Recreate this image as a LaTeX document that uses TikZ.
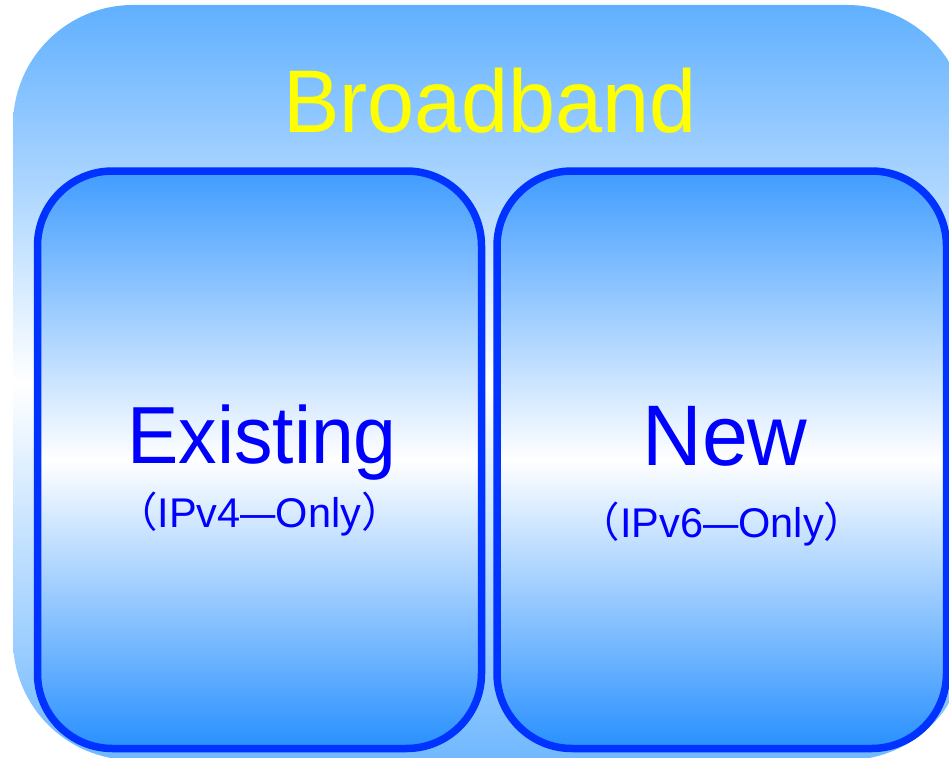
\documentclass[tikz,border=0pt]{standalone}
\usepackage{fontspec}
\setmainfont{Liberation Sans}
\newfontfamily\jpfont{Noto Sans CJK JP}
\definecolor{skytop}{HTML}{60B0FF}
\definecolor{skybot}{HTML}{70B8FF}
\definecolor{boxtop}{HTML}{409CFF}
\definecolor{boxbot}{HTML}{2890FF}
\definecolor{rimblue}{HTML}{0033FF}
\definecolor{textblue}{HTML}{0000FF}
\definecolor{titleyellow}{HTML}{FFFF00}
\newcommand{\widedash}{\scalebox{0.85}[1]{—}}
\tikzset{
  outerbox/.style={rectangle, rounded corners=120pt, inner sep=0pt,
    top color=skytop, bottom color=skybot, middle color=white},
  innerbox/.style={rectangle, rounded corners=75pt, inner sep=0pt,
    draw=rimblue, line width=7.5pt,
    top color=boxtop, bottom color=boxbot, middle color=white},
  bigword/.style={anchor=base, inner sep=0pt, text=textblue},
  subword/.style={anchor=base, inner sep=0pt, text=textblue, font=\fontsize{41.5}{45}\selectfont},
}
\begin{document}
\begin{tikzpicture}[x=1pt, y=-1pt]
  \useasboundingbox (0,0) rectangle (949,757);
  \clip (0,0) rectangle (949,757);
  % outer panel
  \node[outerbox, minimum width=954pt, minimum height=755pt] (broadband) at (490,382.5) {};
  \node[anchor=base, inner sep=0pt, text=titleyellow, font=\fontsize{89}{95}\selectfont]
    (title) at (490,132) {\scalebox{0.95}[1]{Broadband}};
  % the two inner panels
  \node[innerbox, minimum width=444pt, minimum height=577.5pt] (existing) at (259.5,459.75) {};
  \node[innerbox, minimum width=449.5pt, minimum height=577.5pt] (new) at (721.75,459.75) {};
  % labels
  \node[bigword, font=\fontsize{81}{86}\selectfont] (existingname) at (262,463)
    {\scalebox{0.95}[1]{Existing}};
  \node[subword] (existingsub) at (259.5,527)
    {{\jpfont （}IPv4\widedash Only{\jpfont ）}};
  \node[bigword, font=\fontsize{86}{92}\selectfont] (newname) at (725,465)
    {\scalebox{0.96}[1]{New}};
  \node[subword] (newsub) at (722,537)
    {{\jpfont （}IPv6\widedash Only{\jpfont ）}};
\end{tikzpicture}
\end{document}
